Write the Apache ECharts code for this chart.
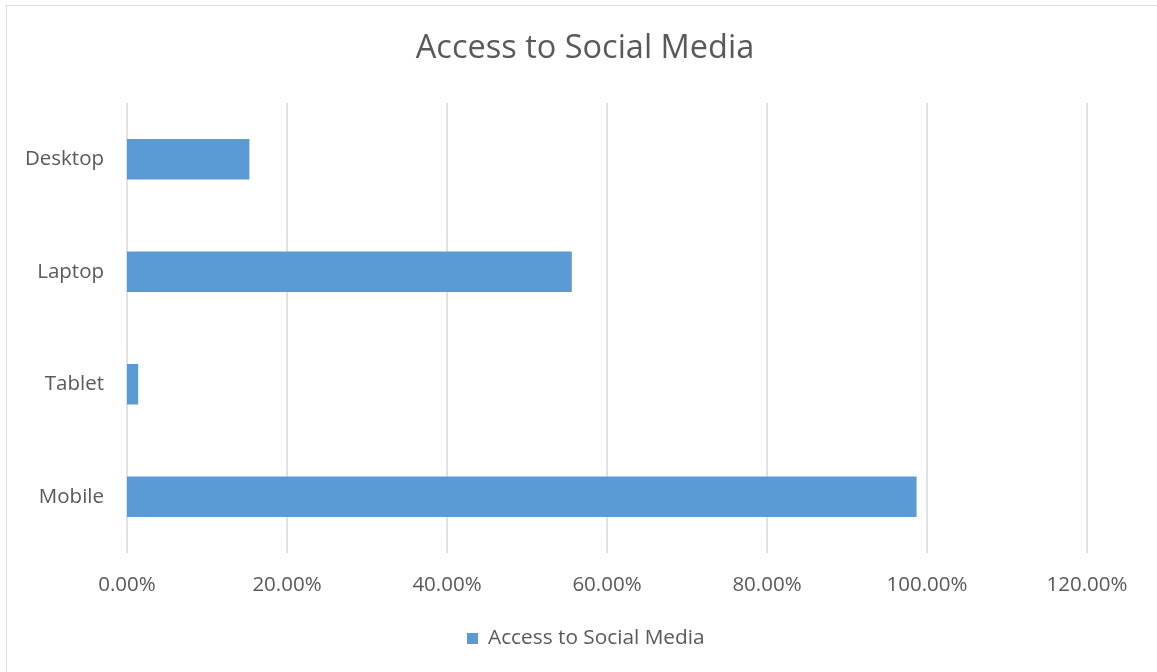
<!DOCTYPE html>
<html>
<head>
<meta charset="utf-8">
<script src="https://cdn.jsdelivr.net/npm/echarts@6/dist/echarts.min.js"></script>
<style>
  html, body { margin: 0; padding: 0; background: #ffffff; }
  #frame { position: absolute; left: 6px; top: 5px; width: 1160px; height: 680px; border: 1px solid #d9d9d9; box-sizing: border-box; }
  #chart { position: absolute; left: 0; top: 0; width: 1157px; height: 672px; }
</style>
</head>
<body>
<div id="frame"></div>
<div id="chart"></div>
<script>
// Devices used to access social media (share of respondents)
const categories = ['Mobile', 'Tablet', 'Laptop', 'Desktop'];
const shares = [0.987, 0.014, 0.556, 0.153];
const seriesName = 'Access to Social Media';
const titleText = 'Access to Social Media';

const font = '"Open Sans", "Noto Sans", sans-serif';
const textColor = '#595959';

const chart = echarts.init(document.getElementById('chart'), null, { renderer: 'canvas' });
chart.setOption({
  animation: false,
  title: {
    text: titleText,
    left: 580,
    top: 27,
    textAlign: 'center',
    textStyle: { fontFamily: font, fontSize: 32.5, fontWeight: 'normal', color: textColor }
  },
  legend: {
    data: [seriesName],
    bottom: 18,
    left: 462,
    itemWidth: 11,
    itemHeight: 11,
    icon: 'rect',
    textStyle: { fontFamily: font, fontSize: 20.8, color: textColor, padding: [0, 0, 0, 5] }
  },
  grid: { left: 127, right: 70, top: 103, bottom: 119, containLabel: false },
  xAxis: {
    type: 'value',
    min: 0,
    max: 1.2,
    interval: 0.2,
    axisLine: { show: false },
    axisTick: { show: false },
    splitLine: { show: true, lineStyle: { color: '#d9d9d9', width: 1.5 } },
    axisLabel: {
      margin: 22,
      fontFamily: font,
      fontSize: 20.5,
      color: textColor,
      formatter: v => (v * 100).toFixed(2) + '%'
    }
  },
  yAxis: {
    type: 'category',
    data: categories,
    axisLine: { show: false },
    axisTick: { show: false },
    axisLabel: { margin: 23, fontFamily: font, fontSize: 20.5, color: textColor }
  },
  series: [{
    name: seriesName,
    type: 'bar',
    data: shares,
    barCategoryGap: '64%',
    itemStyle: { color: '#5b9bd5' }
  }]
});
</script>
</body>
</html>
